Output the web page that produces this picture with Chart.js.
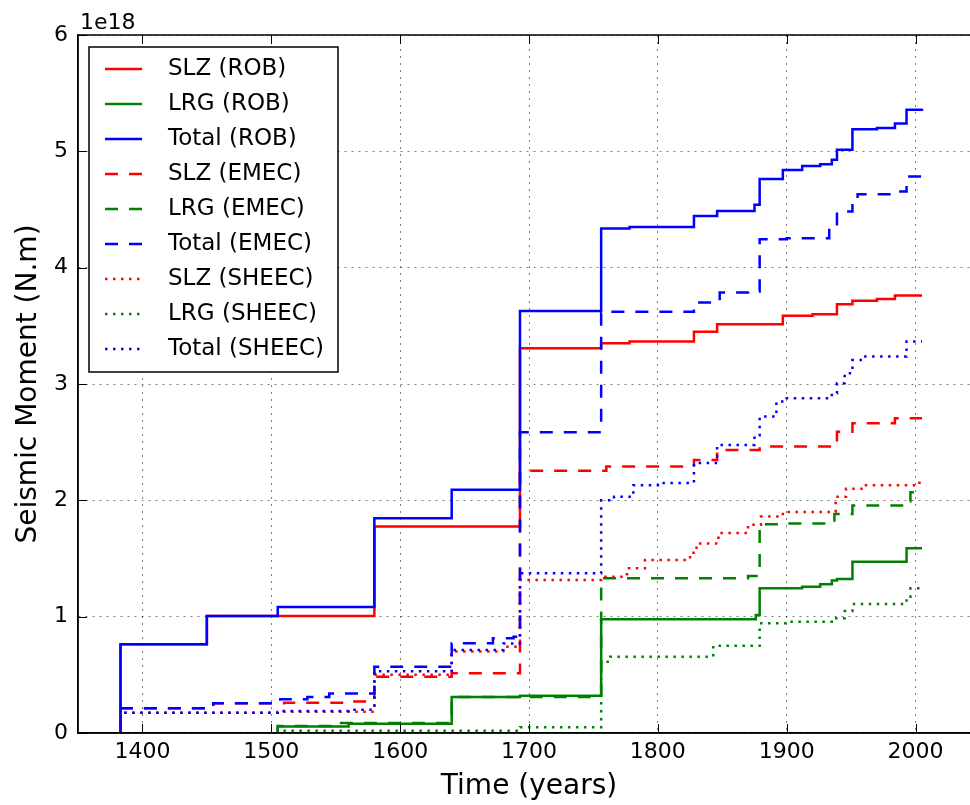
<!DOCTYPE html>
<html>
<head>
<meta charset="utf-8">
<script src="https://cdn.jsdelivr.net/npm/chart.js@4.4.0/dist/chart.umd.min.js"></script>
<style>
  html, body { margin: 0; padding: 0; background: #fff; overflow: hidden; }
  #wrap { width: 970px; height: 805px; overflow: hidden; }
</style>
</head>
<body>
<div id="wrap"><canvas id="momentChart" width="1000" height="805"></canvas></div>
<script>
// axis ticks: years on x, seismic moment (in units of 1e18 N.m) on y
const yearTicks = [1400, 1500, 1600, 1700, 1800, 1900, 2000];
const momentTicks = [0, 1, 2, 3, 4, 5, 6];
const momentExponent = '1e18';

// ROB catalogue, cumulative moment after each step
const slzRobYears  = [1383, 1383, 1450, 1580, 1693, 1756, 1778, 1828, 1846, 1897, 1920, 1939, 1951, 1970, 1984, 2005];
const slzRobValues = [0, 0.763, 1.006, 1.774, 3.308, 3.351, 3.365, 3.45, 3.514, 3.586, 3.60, 3.686, 3.715, 3.73, 3.76, 3.76];

const lrgRobYears  = [1505, 1505, 1560, 1640, 1693, 1756, 1876, 1879, 1912, 1926, 1935, 1939, 1951, 1993, 2005];
const lrgRobValues = [0, 0.055, 0.08, 0.31, 0.32, 0.977, 1.015, 1.244, 1.258, 1.278, 1.31, 1.324, 1.473, 1.588, 1.588];

const totalRobYears  = [1383, 1383, 1450, 1505, 1580, 1640, 1693, 1756, 1778, 1828, 1846, 1875, 1879, 1897, 1912, 1926, 1935, 1939, 1951, 1970, 1984, 1993, 2005];
const totalRobValues = [0, 0.763, 1.006, 1.083, 1.846, 2.09, 3.628, 4.336, 4.35, 4.445, 4.488, 4.54, 4.763, 4.84, 4.875, 4.89, 4.927, 5.013, 5.19, 5.20, 5.24, 5.357, 5.365];

// EMEC catalogue
const slzEmecYears  = [1383, 1383, 1455, 1510, 1560, 1580, 1640, 1693, 1760, 1828, 1846, 1879, 1935, 1939, 1951, 1984, 2005];
const slzEmecValues = [0, 0.212, 0.255, 0.26, 0.27, 0.484, 0.513, 2.255, 2.29, 2.347, 2.433, 2.462, 2.476, 2.59, 2.663, 2.706, 2.706];

const lrgEmecYears  = [1505, 1505, 1550, 1640, 1756, 1870, 1879, 1900, 1937, 1951, 1993, 1996, 2005];
const lrgEmecValues = [0, 0.06, 0.085, 0.31, 1.33, 1.35, 1.795, 1.80, 1.883, 1.955, 1.99, 2.07, 2.07];

const totalEmecYears  = [1383, 1383, 1455, 1507, 1528, 1545, 1580, 1640, 1672, 1688, 1693, 1756, 1760, 1828, 1848, 1870, 1879, 1900, 1933, 1939, 1951, 1955, 1984, 1993, 2005];
const totalEmecValues = [0, 0.212, 0.255, 0.29, 0.31, 0.34, 0.57, 0.771, 0.814, 0.828, 2.585, 3.608, 3.62, 3.70, 3.786, 3.795, 4.245, 4.253, 4.353, 4.482, 4.555, 4.632, 4.654, 4.783, 4.798];

// SHEEC catalogue
const slzSheecYears  = [1383, 1383, 1505, 1580, 1640, 1680, 1693, 1756, 1776, 1790, 1825, 1830, 1847, 1870, 1880, 1897, 1938, 1946, 1960, 2003, 2005];
const slzSheecValues = [0, 0.175, 0.183, 0.5, 0.7, 0.742, 1.316, 1.344, 1.416, 1.488, 1.55, 1.63, 1.72, 1.79, 1.86, 1.9, 2.03, 2.1, 2.13, 2.17, 2.17];

const lrgSheecYears  = [1505, 1505, 1693, 1756, 1763, 1843, 1879, 1900, 1935, 1945, 1951, 1993, 1996, 2005];
const lrgSheecValues = [0, 0.02, 0.05, 0.613, 0.656, 0.75, 0.943, 0.957, 0.986, 1.049, 1.109, 1.172, 1.244, 1.244];

const totalSheecYears  = [1383, 1383, 1505, 1560, 1580, 1640, 1680, 1693, 1756, 1766, 1781, 1800, 1828, 1846, 1875, 1879, 1892, 1900, 1935, 1939, 1945, 1951, 1960, 1993, 2005];
const totalSheecValues = [0, 0.175, 0.19, 0.2, 0.53, 0.714, 0.77, 1.373, 2.0, 2.03, 2.13, 2.15, 2.32, 2.476, 2.56, 2.72, 2.85, 2.878, 2.92, 3.007, 3.093, 3.207, 3.236, 3.365, 3.365];

const FONT = '"DejaVu Sans", "Liberation Sans", sans-serif';
const RED = '#ff0000', GREEN = '#008000', BLUE = '#0000ff';
const SOLID = [], DASHED = [13, 11], DOTTED = [2.5, 5.5];

const series = [
  { label: 'SLZ (ROB)',     years: slzRobYears,     values: slzRobValues,     color: RED,   dash: SOLID },
  { label: 'LRG (ROB)',     years: lrgRobYears,     values: lrgRobValues,     color: GREEN, dash: SOLID },
  { label: 'Total (ROB)',   years: totalRobYears,   values: totalRobValues,   color: BLUE,  dash: SOLID },
  { label: 'SLZ (EMEC)',    years: slzEmecYears,    values: slzEmecValues,    color: RED,   dash: DASHED },
  { label: 'LRG (EMEC)',    years: lrgEmecYears,    values: lrgEmecValues,    color: GREEN, dash: DASHED },
  { label: 'Total (EMEC)',  years: totalEmecYears,  values: totalEmecValues,  color: BLUE,  dash: DASHED },
  { label: 'SLZ (SHEEC)',   years: slzSheecYears,   values: slzSheecValues,   color: RED,   dash: DOTTED },
  { label: 'LRG (SHEEC)',   years: lrgSheecYears,   values: lrgSheecValues,   color: GREEN, dash: DOTTED },
  { label: 'Total (SHEEC)', years: totalSheecYears, values: totalSheecValues, color: BLUE,  dash: DOTTED },
];

const datasets = series.map((s, i) => ({
  label: s.label,
  data: s.years.map((yr, k) => ({ x: yr, y: s.values[k] })),
  borderColor: s.color,
  borderDash: s.dash,
  borderWidth: 2.5,
  stepped: true,
  pointRadius: 0,
  fill: false,
  // later series are drawn on top, like the original plot
  order: series.length - 1 - i,
}));

// spines, inward ticks, offset text and the boxed legend
const framePlugin = {
  id: 'frame',
  afterDatasetsDraw(chart) {
    const { ctx, chartArea: a, scales: { x, y } } = chart;
    ctx.save();

    ctx.strokeStyle = '#000';
    ctx.lineWidth = 1;
    ctx.setLineDash([]);
    ctx.beginPath();
    yearTicks.forEach(v => {
      const px = Math.round(x.getPixelForValue(v)) + 0.5;
      ctx.moveTo(px, a.bottom); ctx.lineTo(px, a.bottom - 9);
      ctx.moveTo(px, a.top); ctx.lineTo(px, a.top + 9);
    });
    momentTicks.forEach(v => {
      const py = Math.round(y.getPixelForValue(v)) + 0.5;
      ctx.moveTo(a.left, py); ctx.lineTo(a.left + 9, py);
      ctx.moveTo(a.right, py); ctx.lineTo(a.right - 9, py);
    });
    ctx.stroke();

    ctx.lineWidth = 1.5;
    ctx.strokeRect(a.left, a.top, a.right - a.left, a.bottom - a.top);

    ctx.fillStyle = '#000';
    ctx.font = '22px ' + FONT;
    ctx.textBaseline = 'alphabetic';
    ctx.textAlign = 'left';
    ctx.fillText(momentExponent, a.left + 2, a.top - 6);

    // legend
    ctx.font = '23px ' + FONT;
    const textW = Math.max(...series.map(s => ctx.measureText(s.label).width));
    const lx = a.left + 11, ly = a.top + 12;
    const lw = 79 + textW + 14, rowH = 35;
    const lh = rowH * (series.length - 1) + 45;
    ctx.fillStyle = '#fff';
    ctx.fillRect(lx, ly, lw, lh);
    ctx.lineWidth = 1.5;
    ctx.strokeStyle = '#000';
    ctx.strokeRect(lx, ly, lw, lh);
    ctx.textBaseline = 'middle';
    series.forEach((s, i) => {
      const cy = ly + 22 + i * rowH;
      ctx.beginPath();
      ctx.strokeStyle = s.color;
      ctx.lineWidth = 2.5;
      ctx.setLineDash(s.dash);
      ctx.moveTo(lx + 16, cy);
      ctx.lineTo(lx + 53, cy);
      ctx.stroke();
      ctx.setLineDash([]);
      ctx.fillStyle = '#000';
      ctx.fillText(s.label, lx + 79, cy);
    });
    ctx.restore();
  }
};

const ctx = document.getElementById('momentChart').getContext('2d');
const chart = new Chart(ctx, {
  type: 'line',
  data: { datasets: datasets },
  options: {
    responsive: false,
    animation: false,
    layout: { padding: { top: 35, right: 20, bottom: 0, left: 0 } },
    plugins: { legend: { display: false }, tooltip: { enabled: false } },
    scales: {
      x: {
        type: 'linear',
        min: 1350,
        max: 2050,
        afterBuildTicks: scale => { scale.ticks = yearTicks.map(v => ({ value: v })); },
        afterFit: scale => { scale.height = 72; },
        ticks: { color: '#000', font: { family: FONT, size: 22 }, padding: 6, maxRotation: 0, callback: v => String(v) },
        grid: { color: 'rgba(0,0,0,0.5)', lineWidth: 1, drawTicks: false },
        border: { display: true, color: '#000', width: 1.5, dash: [2, 5] },
        title: { display: true, text: 'Time (years)', color: '#000', font: { family: FONT, size: 28 }, padding: { top: 0, bottom: 1 } }
      },
      y: {
        type: 'linear',
        min: 0,
        max: 6,
        afterBuildTicks: scale => { scale.ticks = momentTicks.map(v => ({ value: v })); },
        afterFit: scale => { scale.width = 78; },
        ticks: { color: '#000', font: { family: FONT, size: 22 }, padding: 10, callback: v => String(v) },
        grid: { color: 'rgba(0,0,0,0.5)', lineWidth: 1, drawTicks: false },
        border: { display: true, color: '#000', width: 1.5, dash: [2, 5] },
        title: { display: true, text: 'Seismic Moment (N.m)', color: '#000', font: { family: FONT, size: 28 }, padding: { top: 12, bottom: 0 } }
      }
    }
  },
  plugins: [framePlugin]
});
</script>
</body>
</html>
